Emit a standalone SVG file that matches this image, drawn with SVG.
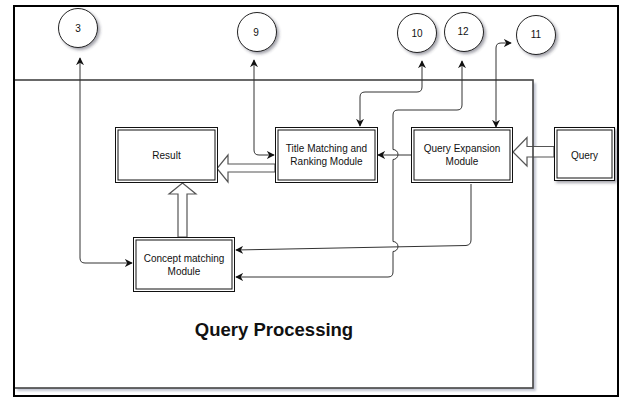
<svg xmlns="http://www.w3.org/2000/svg" width="623" height="397" viewBox="0 0 623 397">
  <defs>
    <style>
      text { font-family: "Liberation Sans", Arial, Helvetica, sans-serif; fill: #111; }
      .lbl { font-size: 10px; text-anchor: middle; }
      .title { font-size: 18.5px; font-weight: bold; text-anchor: middle; }
      .box-o { fill: #fff; stroke: #111; stroke-width: 1; }
      .box-i { fill: none; stroke: #111; stroke-width: 1; }
      .circ { fill: #fff; stroke: #222; stroke-width: 1; }
      .conn { fill: none; stroke: #333; stroke-width: 1; }
      .block { fill: #fff; stroke: #555; stroke-width: 1.2; }
    </style>
    <marker id="arr" viewBox="0 0 10 10" refX="9" refY="5" markerWidth="8" markerHeight="8" markerUnits="userSpaceOnUse" orient="auto-start-reverse">
      <path d="M0,0 L10,5 L0,10 L3,5 Z" fill="#111"/>
    </marker>
    <filter id="shadow" x="-20%" y="-20%" width="150%" height="150%">
      <feDropShadow dx="2" dy="2" stdDeviation="1.5" flood-color="#334" flood-opacity="0.45"/>
    </filter>
    <filter id="soft" x="-5%" y="-5%" width="110%" height="110%">
      <feGaussianBlur stdDeviation="1.2"/>
    </filter>
  </defs>

  <!-- page background and frame -->
  <rect x="0" y="0" width="623" height="397" fill="#fff"/>
  <rect x="14" y="6" width="604" height="390" fill="#fff" stroke="#000" stroke-width="2"/>

  <!-- Query Processing container -->
  <g id="container">
    <rect x="17" y="83" width="519" height="308" fill="#8890a8" opacity="0.5" filter="url(#soft)"/>
    <rect x="14" y="80" width="519" height="308" fill="#fff" stroke="none"/>
    <text class="title" x="274" y="336">Query Processing</text>
  </g>

  <!-- hollow block arrows -->
  <g id="block-arrows">
    <polygon class="block" points="275,164 228,164 228,155 217,168.5 228,182 228,172 275,172"/>
    <polygon class="block" points="178,237 178,194 169,194 182.5,183 196,194 187,194 187,237"/>
    <polygon class="block" points="554,146.5 527,146.5 527,137.5 513,152 527,166 527,157 554,157"/>
  </g>

  <!-- container outline on top of the block arrow -->
  <rect x="14" y="80" width="519" height="308" fill="none" stroke="#444" stroke-width="1.6"/>
  <line x1="14" y1="6" x2="14" y2="396" stroke="#000" stroke-width="2"/>

  <!-- connectors -->
  <g id="connectors">
    <path class="conn" d="M80,58 V258 Q80,263 85,263 H132" marker-start="url(#arr)" marker-end="url(#arr)"/>
    <path class="conn" d="M254,60 V150 Q254,155 259,155 H274" marker-start="url(#arr)" marker-end="url(#arr)"/>
    <path class="conn" d="M360,126 V97 Q360,92 365,92 H417 Q422,92 422,87 V61" marker-start="url(#arr)" marker-end="url(#arr)"/>
    <path class="conn" d="M462,61 V105 Q462,110 457,110 H398 Q393,110 393,115 V149.5 A5,5 0 0 1 393,159.5 V241.5 A5,5 0 0 1 393,251.5 V272 Q393,277 388,277 H236" marker-start="url(#arr)" marker-end="url(#arr)"/>
    <path class="conn" d="M471,184 V240 Q471,245 466,245.5 L236,250" marker-end="url(#arr)"/>
    <path class="conn" d="M411,155 H378" marker-end="url(#arr)"/>
    <path class="conn" d="M496,127 V48 Q496,43 501,43 H511" marker-start="url(#arr)" marker-end="url(#arr)"/>
  </g>

  <!-- reference circles -->
  <g id="n3">
    <circle class="circ" cx="78" cy="28" r="19.5" filter="url(#shadow)"/>
    <text class="lbl" x="78" y="31.5">3</text>
  </g>
  <g id="n9">
    <circle class="circ" cx="257" cy="32" r="19.5" filter="url(#shadow)"/>
    <text class="lbl" x="256" y="36">9</text>
  </g>
  <g id="n10">
    <circle class="circ" cx="417" cy="33" r="19.5" filter="url(#shadow)"/>
    <text class="lbl" x="417" y="37">10</text>
  </g>
  <g id="n12">
    <circle class="circ" cx="464" cy="32" r="19.5" filter="url(#shadow)"/>
    <text class="lbl" x="463" y="35">12</text>
  </g>
  <g id="n11">
    <circle class="circ" cx="536" cy="35" r="19.5" filter="url(#shadow)"/>
    <text class="lbl" x="536" y="38">11</text>
  </g>

  <!-- module boxes -->
  <g id="result">
    <rect class="box-o" x="115.5" y="127.5" width="102" height="55"/>
    <rect class="box-i" x="118" y="130" width="97" height="50"/>
    <text class="lbl" x="166.5" y="159">Result</text>
  </g>
  <g id="title-matching">
    <rect class="box-o" x="275.5" y="127.5" width="102" height="55"/>
    <rect class="box-i" x="278" y="130" width="97" height="50"/>
    <text class="lbl" x="326.5" y="152">Title Matching and</text>
    <text class="lbl" x="326.5" y="165">Ranking Module</text>
  </g>
  <g id="query-expansion">
    <rect class="box-o" x="411.5" y="127.5" width="101" height="55"/>
    <rect class="box-i" x="414" y="130" width="96" height="50"/>
    <text class="lbl" x="462" y="152">Query Expansion</text>
    <text class="lbl" x="462" y="165">Module</text>
  </g>
  <g id="query">
    <rect class="box-o" x="554.5" y="127.5" width="60" height="53" filter="url(#shadow)"/>
    <rect class="box-i" x="557" y="130" width="55" height="48"/>
    <text class="lbl" x="584.5" y="159">Query</text>
  </g>
  <g id="concept-matching">
    <rect class="box-o" x="133.5" y="237.5" width="101" height="54"/>
    <rect class="box-i" x="136" y="240" width="96" height="49"/>
    <text class="lbl" x="184" y="262">Concept matching</text>
    <text class="lbl" x="184" y="275">Module</text>
  </g>
</svg>
